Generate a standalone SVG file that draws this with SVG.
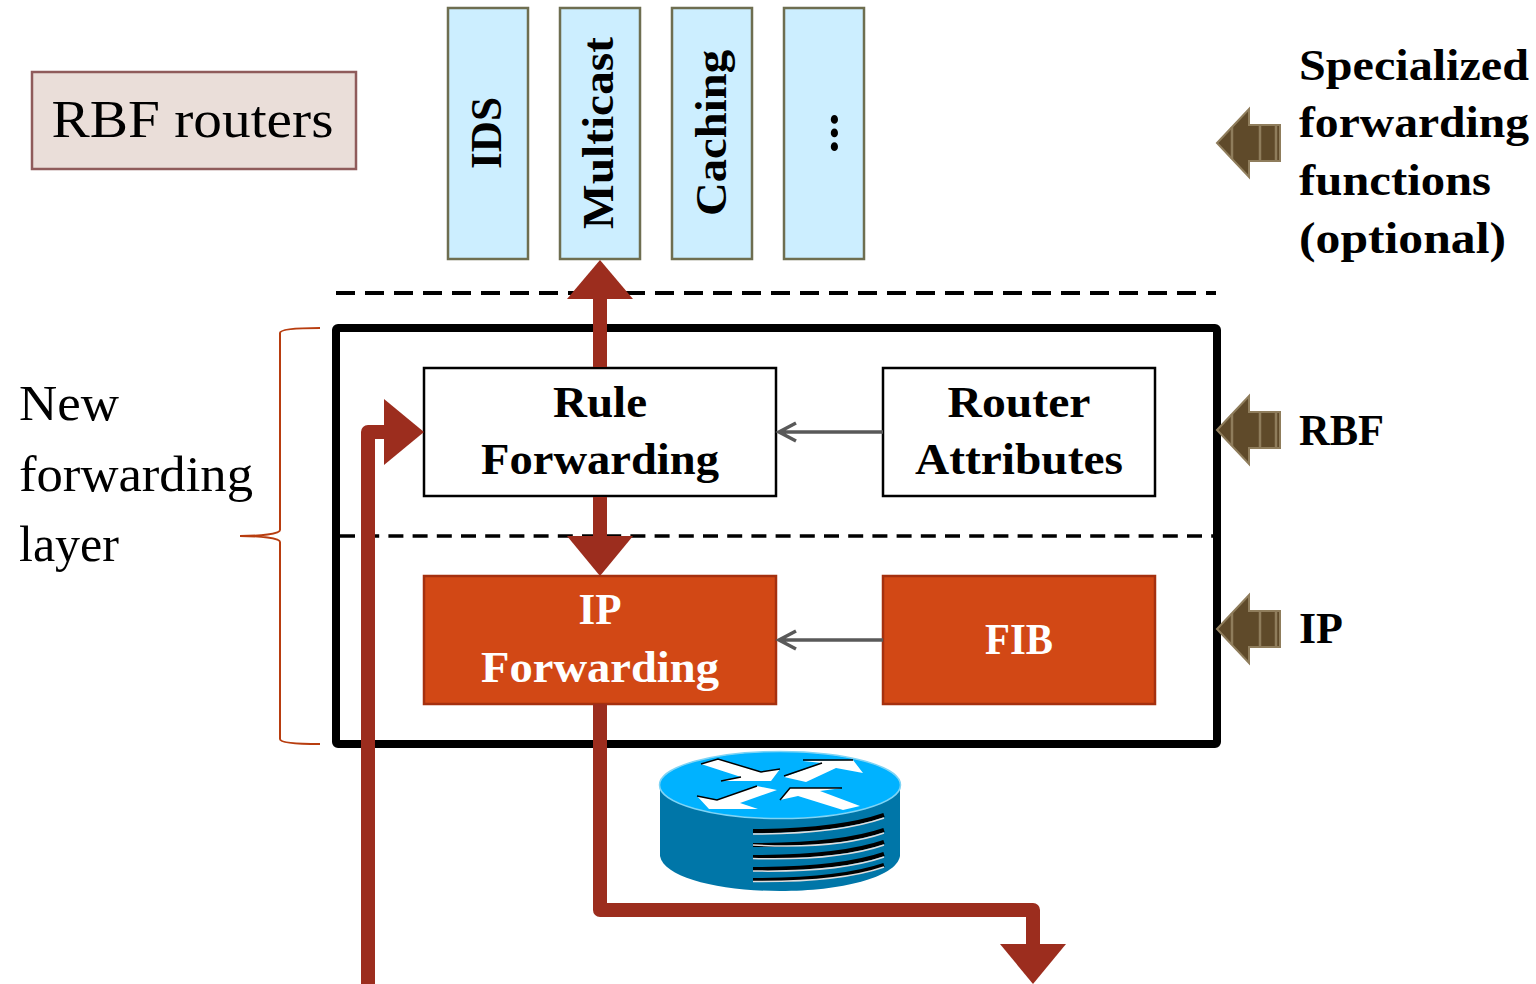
<svg xmlns="http://www.w3.org/2000/svg" width="1536" height="984" viewBox="0 0 1536 984">
<style>
text{font-family:"Liberation Serif","Times New Roman",serif;fill:#000;text-anchor:middle}
.b{font-weight:bold;font-size:44px}
.r{font-size:50px;text-anchor:start}
.l{font-weight:bold;font-size:44px;text-anchor:start}
.w{fill:#fff}
.fn{fill:#cceeff;stroke:#6e6e50;stroke-width:2.5}
.box{fill:#fff;stroke:#000;stroke-width:2.5}
.or{fill:#d24815;stroke:#a5300f;stroke-width:2.5}
.thin{fill:none;stroke:#595959;stroke-width:3.5}
.red{fill:none;stroke:#9c2d1e;stroke-width:14;stroke-linejoin:round}
.head{fill:#9c2d1e}
.blk{fill:#5f4a2a;stroke:#8f7d5c;stroke-width:2}
.bar{stroke:#8f7d5c;stroke-width:2.5}
.brace{fill:none;stroke:#b83d0f;stroke-width:2}
.slot{fill:none;stroke:#000;stroke-width:4}
.slot2{fill:none;stroke:#ddd;stroke-width:1.5}
.ar{fill:#fff}
.sh{fill:none;stroke:#000;stroke-width:1.5}
</style>
<g id="legend"><rect x="32" y="72" width="324" height="97" fill="#eaded9" stroke="#8f5b5b" stroke-width="2.5"/><text x="192.500" y="137" font-size="52" textLength="282" lengthAdjust="spacingAndGlyphs">RBF routers</text></g>
<g id="ids"><rect class="fn" x="448" y="8" width="80" height="251"/><text class="b" transform="translate(501,133) rotate(-90)" textLength="72" lengthAdjust="spacingAndGlyphs">IDS</text></g>
<g id="multicast"><rect class="fn" x="560" y="8" width="80" height="251"/><text class="b" transform="translate(613,133) rotate(-90)" textLength="192" lengthAdjust="spacingAndGlyphs">Multicast</text></g>
<g id="caching"><rect class="fn" x="672" y="8" width="80" height="251"/><text class="b" transform="translate(726,133) rotate(-90)" textLength="166" lengthAdjust="spacingAndGlyphs">Caching</text></g>
<g id="more"><rect class="fn" x="784" y="8" width="80" height="251"/><text class="b" transform="translate(838,133) rotate(-90)" textLength="41" lengthAdjust="spacingAndGlyphs">...</text></g>
<g id="forwarding-layer"><rect x="336" y="328" width="881" height="416" rx="2" fill="#fff" stroke="#000" stroke-width="8"/></g>
<g id="rule-forwarding"><rect class="box" x="424" y="368" width="352" height="128"/><text class="b" x="600" y="417" textLength="94" lengthAdjust="spacingAndGlyphs">Rule</text><text class="b" x="600" y="474" textLength="238" lengthAdjust="spacingAndGlyphs">Forwarding</text></g>
<g id="router-attributes"><rect class="box" x="883" y="368" width="272" height="128"/><text class="b" x="1019" y="417" textLength="143" lengthAdjust="spacingAndGlyphs">Router</text><text class="b" x="1019" y="474" textLength="208" lengthAdjust="spacingAndGlyphs">Attributes</text></g>
<g id="ip-forwarding"><rect class="or" x="424" y="576" width="352" height="128"/><text class="b w" x="600" y="624" textLength="43" lengthAdjust="spacingAndGlyphs">IP</text><text class="b w" x="600" y="682" textLength="238" lengthAdjust="spacingAndGlyphs">Forwarding</text></g>
<g id="fib"><rect class="or" x="883" y="576" width="272" height="128"/><text class="b w" x="1019" y="654" textLength="68" lengthAdjust="spacingAndGlyphs">FIB</text></g>
<g id="router-icon">
<path d="M660 785V856C664 878 720 891 780 891C840 891 896 878 900 856V785Z" fill="#0076a8"/>
<ellipse cx="780" cy="785" rx="120.500" ry="33.500" fill="#00b2ff" stroke="#7fd4f5" stroke-width="1.500"/>
<path class="ar" d="M701 764L718 759L761 772L780 769L771 781L721 781L741 777Z"/>
<path class="sh" d="M701 764L718 759L761 772L780 769M721 781L741 777"/>
<path class="ar" d="M784 777L822 763L803 761L853 760L863 773L836 768L806 782Z"/>
<path class="sh" d="M784 776L822 763M803 760L853 760"/>
<path class="ar" d="M697 796L717 800L757 786L777 790L740 803L758 809L709 809Z"/>
<path class="sh" d="M697 796L717 800L757 786"/>
<path class="ar" d="M780 800L790 788L842 788L820 791L860 806L843 810L798 796Z"/>
<path class="sh" d="M780 800L790 788L842 788"/>
<path class="slot" d="M753 831C810 831 855 825 884 815M753 845C810 845 855 840 884 830M753 857C810 857 855 852 884 842M753 869C810 869 855 864 884 854M753 880C810 880 855 875 884 865"/>
<path class="slot2" d="M753 834C810 834 855 828 884 818M753 845C810 848 855 843 884 833M753 858.500C810 860 855 855 884 845M753 871C810 872 855 867 884 857M753 881.500C810 882 855 877 884 867"/>
</g>
<g id="connectors">
<path d="M336 293H1216" fill="none" stroke="#000" stroke-width="4" stroke-dasharray="19 10"/>
<path d="M340 536H1216" fill="none" stroke="#000" stroke-width="3.500" stroke-dasharray="15 9.200"/>
<path class="red" d="M600 367V296"/><path class="head" d="M600 260L633 299H567Z"/>
<path class="red" d="M600 497V540"/><path class="head" d="M600 576L567 536H633Z"/>
<path class="red" d="M368 984V432H390"/><path class="head" d="M424 432L384 399V465Z"/>
<path class="red" d="M600 704V910H1033V948"/><path class="head" d="M1033 984L1000 944H1066Z"/>
<path class="thin" d="M883 432H780M796 423L779 432L796 441"/>
<path class="thin" d="M883 640H780M796 631L779 640L796 649"/>
<path class="brace" d="M320 328C300 328 280 329 280 333V530C280 534 260 536 240 536C260 536 280 538 280 542V739C280 743 300 744 320 744"/>
</g>
<g id="arrow-specialized"><path class="blk" d="M1217 143L1249 109V125H1280V161H1249V177Z"/><path class="bar" d="M1232 127V159M1260 125V161M1276 125V161"/></g>
<g id="arrow-rbf"><path class="blk" d="M1217 430L1249 396V412H1280V448H1249V464Z"/><path class="bar" d="M1232 414V446M1260 412V448M1276 412V448"/></g>
<g id="arrow-ip"><path class="blk" d="M1217 629L1249 595V611H1280V647H1249V663Z"/><path class="bar" d="M1232 613V645M1260 611V647M1276 611V647"/></g>
<g id="labels">
<text class="l" x="1299" y="80" textLength="230" lengthAdjust="spacingAndGlyphs">Specialized</text>
<text class="l" x="1299" y="137" textLength="230" lengthAdjust="spacingAndGlyphs">forwarding</text>
<text class="l" x="1299" y="195" textLength="192" lengthAdjust="spacingAndGlyphs">functions</text>
<text class="l" x="1299" y="253" textLength="207" lengthAdjust="spacingAndGlyphs">(optional)</text>
<text class="l" x="1299" y="445" textLength="85" lengthAdjust="spacingAndGlyphs">RBF</text>
<text class="l" x="1299" y="643" textLength="44" lengthAdjust="spacingAndGlyphs">IP</text>
<text class="r" x="19" y="420" textLength="100" lengthAdjust="spacingAndGlyphs">New</text>
<text class="r" x="19" y="491" textLength="234" lengthAdjust="spacingAndGlyphs">forwarding</text>
<text class="r" x="19" y="561" textLength="100" lengthAdjust="spacingAndGlyphs">layer</text>
</g>
</svg>
